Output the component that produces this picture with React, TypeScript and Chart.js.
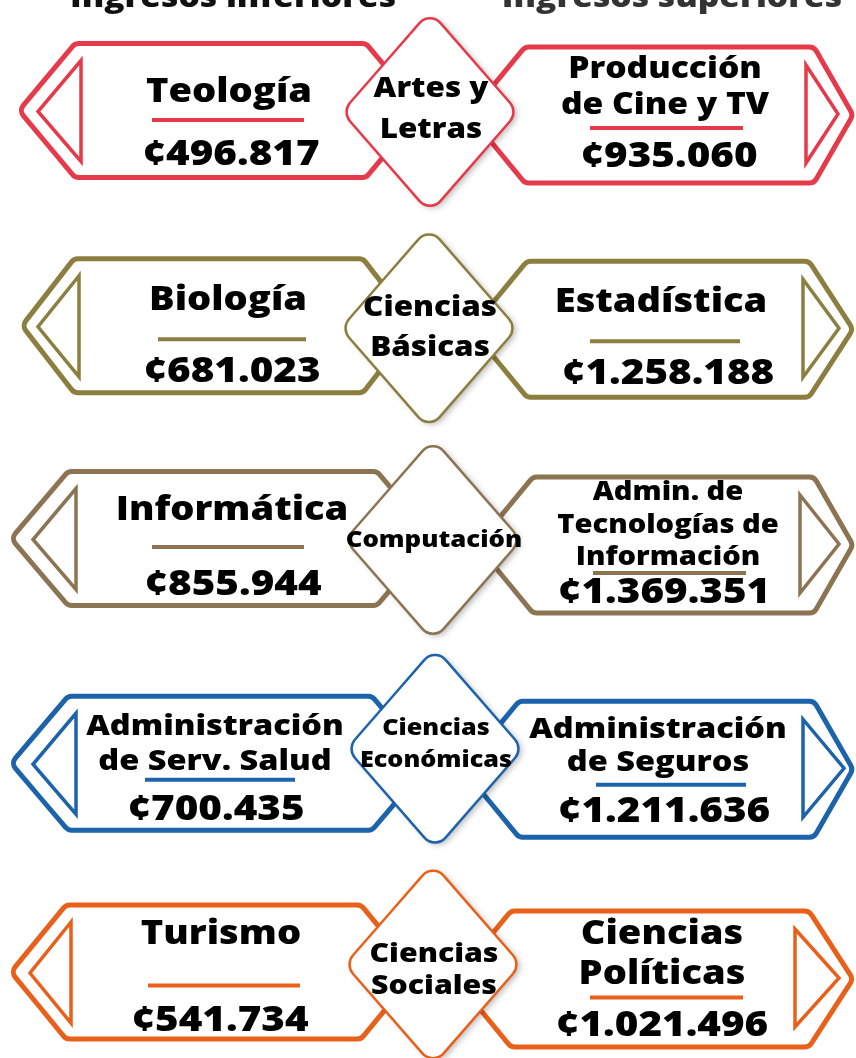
import React, { useEffect, useRef } from "react";
import { Chart, registerables } from "chart.js";

Chart.register(...registerables);

// ---------- DATA ----------
const COLUMN_TITLES = ["Ingresos inferiores", "Ingresos superiores"];
const AREA_LINES: string[][] = [
  ["Artes y", "Letras"],
  ["Ciencias", "Básicas"],
  ["Computación"],
  ["Ciencias", "Económicas"],
  ["Ciencias", "Sociales"],
];
const LOW_PROGRAMS: string[][] = [
  ["Teología"],
  ["Biología"],
  ["Informática"],
  ["Administración", "de Serv. Salud"],
  ["Turismo"],
];
const LOW_INCOME = [496817, 681023, 855944, 700435, 541734];
const HIGH_PROGRAMS: string[][] = [
  ["Producción", "de Cine y TV"],
  ["Estadística"],
  ["Admin. de", "Tecnologías de", "Información"],
  ["Administración", "de Seguros"],
  ["Ciencias", "Políticas"],
];
const HIGH_INCOME = [935060, 1258188, 1369351, 1211636, 1021496];

// ---------- STYLE / LAYOUT ----------
const ROW_COLORS = ["#E63A4A", "#8C7E3E", "#8C7352", "#1C63AC", "#E8601A"];
const FONT = '"Open Sans", "Noto Sans", sans-serif';
const WEIGHT = 800;
const STRETCH = 1.12;
const ROW_NUDGE = [0, 0, -2.5, 7, 0.5];
const L_VERTEX_X = [19, 22, 11, 11, 11];
const L_CORNER_X = [75, 74, 68, 68, 66];
const L_RIGHT_X = [366, 363, 377, 372, 361];
const HEX_H = 67;
const R_OFFSET_Y = [4.5, 3.5, 6.5, 6, 7];
const R_LEFT_X = [525, 527, 533, 519, 511];
const R_CORNER_X = [814, 809, 814, 814, 809];
const R_VERTEX_X = 853;
const LT_VERT_X = [81, 79, 76, 76, 71];
const LT_APEX_X = [38, 38, 33, 33, 30];
const RT_VERT_X = [806, 803, 800, 803, 795];
const RT_APEX_X = [838, 839, 839, 844, 839];
const D_X = [430, 429, 433, 435, 433];
const D_OFFSET_Y = [1.5, 2.5, 1.5, -14.5, -7.5];
const D_HW = 88;
const D_HH = 101;

const LEFT_TEXT = [
  { x: 229, lines: [-8.5], size: 34, ul: [152, 304, 9.5], val: 54.5, vx: 231 },
  { x: 228, lines: [-15.5], size: 34, ul: [158, 306, 13.5], val: 56.5, vx: 232 },
  { x: 232, lines: [-18.5], size: 34, ul: [152, 304, 8.5], val: 56.5, vx: 233 },
  { x: 215, lines: [-28.5, 6.5], size: 29, ul: [145, 295, 16.5], val: 56.5, vx: 216 },
  { x: 221, lines: [-28.5], size: 34, ul: [148, 300, 13.5], val: 58.5, vx: 220 },
];
const RIGHT_TEXT = [
  { x: 665, lines: [-37, -1], size: 30, ul: [590, 743, 13], val: 52, vx: 669 },
  { x: 661, lines: [-17], size: 34, ul: [590, 740, 12], val: 55, vx: 668 },
  { x: 668, lines: [-45, -12, 20], size: 26, ul: [593, 746, 28], val: 58, vx: 664 },
  { x: 658, lines: [-31.5, 1.5], size: 29, ul: [596, 746, 15.5], val: 52.5, vx: 664 },
  { x: 662, lines: [-35.5, 4.5], size: 34, ul: [590, 743, 18.5], val: 56.5, vx: 662 },
];
const CENTER_TEXT = [
  { lines: [-15, 26], size: 28 },
  { lines: [-12, 28], size: 28 },
  { lines: [7], size: 23 },
  { lines: [-14, 18], size: 22.5 },
  { lines: [-3, 29], size: 27 },
];
const VALUE_SIZE = 36;

function fmt(n: number): string {
  return "¢" + String(n).replace(/\B(?=(\d{3})+(?!\d))/g, ".");
}

function roundedPoly(ctx: CanvasRenderingContext2D, pts: number[][], r: number) {
  const n = pts.length;
  ctx.beginPath();
  const mid = (a: number[], b: number[]) => [(a[0] + b[0]) / 2, (a[1] + b[1]) / 2];
  const start = mid(pts[n - 1], pts[0]);
  ctx.moveTo(start[0], start[1]);
  for (let i = 0; i < n; i++) {
    const p = pts[i];
    const q = pts[(i + 1) % n];
    ctx.arcTo(p[0], p[1], q[0], q[1], r);
  }
  ctx.closePath();
}

function drawText(ctx: CanvasRenderingContext2D, s: string, x: number, y: number, size: number, color: string) {
  ctx.save();
  ctx.translate(x, y);
  ctx.scale(STRETCH, 1);
  ctx.font = `${WEIGHT} ${size}px ${FONT}`;
  ctx.textAlign = "center";
  ctx.textBaseline = "alphabetic";
  ctx.fillStyle = color;
  ctx.fillText(s, 0, 0);
  ctx.restore();
}

const infographicPlugin = {
  id: "infographic",
  beforeDraw(chart: any) {
    const ctx = chart.ctx as CanvasRenderingContext2D;
    ctx.save();
    ctx.fillStyle = "#ffffff";
    ctx.fillRect(0, 0, chart.width, chart.height);
    ctx.restore();
  },
  afterDraw(chart: any) {
    const ctx = chart.ctx as CanvasRenderingContext2D;
    const xs = chart.scales.x;
    const ys = chart.scales.y;
    const X = (v: number) => xs.getPixelForValue(v);

    // column titles
    drawText(ctx, COLUMN_TITLES[0], X(233), 7, 30, "#111111");
    drawText(ctx, COLUMN_TITLES[1], X(672), 7, 30, "#333333");

    AREA_LINES.forEach((area, i) => {
      const color = ROW_COLORS[i];
      const lc = ys.getPixelForValue(i) + ROW_NUDGE[i];
      const rc = lc + R_OFFSET_Y[i];
      const dc = lc + D_OFFSET_Y[i];

      ctx.save();
      ctx.strokeStyle = color;
      ctx.lineJoin = "round";
      ctx.lineWidth = 5;
      // left hexagon
      const lv = X(L_VERTEX_X[i]);
      const lcx = X(L_CORNER_X[i]);
      const lrx = X(L_RIGHT_X[i]);
      const ldx = lcx - lv;
      roundedPoly(ctx, [
        [lv, lc], [lcx, lc - HEX_H], [lrx, lc - HEX_H], [lrx + ldx, lc], [lrx, lc + HEX_H], [lcx, lc + HEX_H],
      ], 8);
      ctx.stroke();
      // right hexagon
      const rlx = X(R_LEFT_X[i]);
      const rcx = X(R_CORNER_X[i]);
      const rv = X(R_VERTEX_X);
      roundedPoly(ctx, [
        [rlx - 56, rc], [rlx, rc - HEX_H - 1], [rcx, rc - HEX_H - 1], [rv, rc], [rcx, rc + HEX_H + 1], [rlx, rc + HEX_H + 1],
      ], 8);
      ctx.stroke();
      // triangles
      ctx.lineWidth = 3.5;
      ctx.lineJoin = "miter";
      ctx.beginPath();
      ctx.moveTo(X(LT_VERT_X[i]), lc - 50);
      ctx.lineTo(X(LT_APEX_X[i]), lc + 1);
      ctx.lineTo(X(LT_VERT_X[i]), lc + 51);
      ctx.closePath();
      ctx.stroke();
      ctx.beginPath();
      ctx.moveTo(X(RT_VERT_X[i]), rc - 50);
      ctx.lineTo(X(RT_APEX_X[i]), rc - 1);
      ctx.lineTo(X(RT_VERT_X[i]), rc + 48);
      ctx.closePath();
      ctx.stroke();

      // underlines
      ctx.lineWidth = 4;
      ctx.lineCap = "butt";
      const L = LEFT_TEXT[i];
      const R = RIGHT_TEXT[i];
      ctx.beginPath();
      ctx.moveTo(X(L.ul[0]), lc + L.ul[2]);
      ctx.lineTo(X(L.ul[1]), lc + L.ul[2]);
      ctx.stroke();
      ctx.beginPath();
      ctx.moveTo(X(R.ul[0]), rc + R.ul[2]);
      ctx.lineTo(X(R.ul[1]), rc + R.ul[2]);
      ctx.stroke();

      // diamond
      const dx = X(D_X[i]);
      const dpts = [[dx, dc - D_HH], [dx + D_HW, dc], [dx, dc + D_HH], [dx - D_HW, dc]];
      ctx.save();
      ctx.shadowColor = "rgba(0,0,0,0.28)";
      ctx.shadowBlur = 6;
      ctx.shadowOffsetX = 3;
      ctx.shadowOffsetY = 2;
      roundedPoly(ctx, dpts, 14);
      ctx.fillStyle = "#ffffff";
      ctx.fill();
      ctx.restore();
      roundedPoly(ctx, dpts, 14);
      ctx.lineWidth = 2.5;
      ctx.lineJoin = "round";
      ctx.stroke();
      ctx.restore();

      // texts
      LOW_PROGRAMS[i].forEach((s, k) => drawText(ctx, s, X(L.x), lc + L.lines[k], L.size, "#000000"));
      drawText(ctx, fmt(LOW_INCOME[i]), X(L.vx), lc + L.val, VALUE_SIZE, "#000000");
      HIGH_PROGRAMS[i].forEach((s, k) => drawText(ctx, s, X(R.x), rc + R.lines[k], R.size, "#000000"));
      drawText(ctx, fmt(HIGH_INCOME[i]), X(R.vx), rc + R.val, VALUE_SIZE, "#000000");
      const C = CENTER_TEXT[i];
      area.forEach((s, k) => drawText(ctx, s, dx + 1, dc + C.lines[k], C.size, "#000000"));
    });
  },
};

export default function App() {
  const ref = useRef<HTMLCanvasElement | null>(null);
  useEffect(() => {
    if (!ref.current) return;
    const chart = new Chart(ref.current, {
      type: "scatter",
      data: {
        datasets: [
          {
            data: LOW_INCOME.map((_, i) => ({ x: 0, y: i })),
            pointRadius: 0,
            showLine: false,
          },
        ],
      },
      options: {
        animation: false,
        responsive: false,
        devicePixelRatio: 1,
        layout: { padding: 0 },
        plugins: { legend: { display: false }, tooltip: { enabled: false } },
        events: [],
        scales: {
          x: { type: "linear", display: false, min: 0, max: 856 },
          y: { type: "linear", display: false, min: -110.5 / 215.25, max: -110.5 / 215.25 + 1058 / 215.25, reverse: true },
        },
      },
      plugins: [infographicPlugin],
    } as any);
    return () => chart.destroy();
  }, []);
  return (
    <div style={{ position: "absolute", left: 0, top: 0, width: 856, height: 1058, background: "#fff" }}>
      <canvas ref={ref} width={856} height={1058} style={{ display: "block" }} />
    </div>
  );
}
